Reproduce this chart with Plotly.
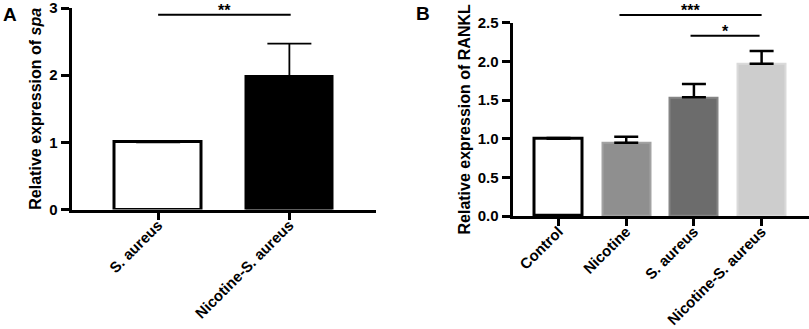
import plotly.graph_objects as go

W, H = 809, 329
FONT = "Liberation Sans, Arial, sans-serif"

# ---------------- data ----------------
cats_a = ["S. aureus", "Nicotine-S. aureus"]
vals_a = [1.0, 1.97]
err_a = [0.0, 0.50]
colors_a = ["#ffffff", "#000000"]

cats_b = ["Control", "Nicotine", "S. aureus", "Nicotine-S. aureus"]
vals_b = [1.0, 0.947, 1.536, 1.97]
err_b = [0.01, 0.078, 0.171, 0.163]
colors_b = ["#ffffff", "#8f8f8f", "#6c6c6c", "#cdcdcd"]
edge_b = ["#000000", "#a2a2a2", "#858585", "#dadada"]

ticks_a = [0, 1, 2, 3]
ticks_b = [0.0, 0.5, 1.0, 1.5, 2.0, 2.5]

# significance brackets: (x start, x end, y, label) in data units
sig_a = [(0.0, 1.01, 2.90, "**")]
sig_b = [(0.9, 3.0, 2.60, "***"), (1.95, 2.97, 2.33, "*")]

# ---------------- geometry (pixels) ----------------
A_x = (71.5, 376)
A_y = (8, 209.5)      # top, bottom
A_xr = [-0.66, 1.66]
A_yr = [0, 3]
B_x = (512.5, 809)
B_y = (22.7, 216)
B_xr = [-0.68, 3.70]
B_yr = [0, 2.5]


def dom_x(p):
    return [p[0] / W, p[1] / W]


def dom_y(p):
    return [(H - p[1]) / H, (H - p[0]) / H]


def to_paper(x, y, px, py, xr, yr):
    dx = dom_x(px)
    dy = dom_y(py)
    fx = dx[0] + (x - xr[0]) / (xr[1] - xr[0]) * (dx[1] - dx[0])
    fy = dy[0] + (y - yr[0]) / (yr[1] - yr[0]) * (dy[1] - dy[0])
    return fx, fy


def b(s):
    return f"<b>{s}</b>"


fig = go.Figure()

fig.add_trace(go.Bar(
    x=list(range(len(cats_a))), y=vals_a, width=0.66,
    marker=dict(color=colors_a, line=dict(color="#000000", width=3)),
    error_y=dict(type="data", array=err_a, arrayminus=[0] * len(err_a),
                 symmetric=False, color="#000000", thickness=1.8, width=22),
    xaxis="x", yaxis="y", showlegend=False,
))

fig.add_trace(go.Bar(
    x=list(range(len(cats_b))), y=vals_b, width=0.71,
    marker=dict(color=colors_b, line=dict(color=edge_b, width=[3, 2, 2, 2])),
    error_y=dict(type="data", array=err_b, arrayminus=[0] * len(err_b),
                 symmetric=False, color="#000000", thickness=2.5, width=12),
    xaxis="x2", yaxis="y2", showlegend=False,
))

tickfont = dict(family=FONT, size=15, color="#000000")
titlefont = dict(family=FONT, size=16, color="#000000")
common_x = dict(showline=True, linewidth=3, linecolor="#000000", ticks="outside",
                ticklen=7, tickwidth=3, tickcolor="#000000", tickangle=-45,
                tickfont=tickfont, showgrid=False, zeroline=False, fixedrange=True,
                automargin=False, ticklabeloverflow="allow", ticklabelstandoff=-9)
common_y = dict(showline=True, linewidth=3, linecolor="#000000", ticks="outside",
                ticklen=8, tickwidth=3, tickcolor="#000000",
                tickfont=tickfont, showgrid=False, zeroline=False, fixedrange=True,
                automargin=False, ticklabeloverflow="allow")

fig.update_layout(
    template="none",
    width=W, height=H, margin=dict(l=0, r=0, t=0, b=0, autoexpand=False),
    paper_bgcolor="#ffffff", plot_bgcolor="#ffffff",
    bargap=0,
    xaxis=dict(domain=dom_x(A_x), range=A_xr, anchor="y",
               tickmode="array", tickvals=list(range(len(cats_a))),
               ticktext=[b(c) for c in cats_a], **common_x),
    yaxis=dict(domain=dom_y(A_y), range=A_yr, anchor="x",
               tickmode="array", tickvals=ticks_a,
               ticktext=[b(t) for t in ticks_a],
               title=dict(text=b("Relative expression of <i>spa</i>"),
                          font=titlefont, standoff=4),
               **common_y),
    xaxis2=dict(domain=dom_x(B_x), range=B_xr, anchor="y2",
                tickmode="array", tickvals=list(range(len(cats_b))),
                ticktext=[b(c) for c in cats_b], **common_x),
    yaxis2=dict(domain=dom_y(B_y), range=B_yr, anchor="x2",
                tickmode="array", tickvals=ticks_b,
                ticktext=[b(f"{t:.1f}") for t in ticks_b],
                title=dict(text=b("Relative expression of RANKL"),
                           font=titlefont, standoff=4),
                **common_y),
)

shapes = []
annotations = []


def add_sig(sigs, px, py, xr, yr):
    for (x0, x1, y, lab) in sigs:
        p0 = to_paper(x0, y, px, py, xr, yr)
        p1 = to_paper(x1, y, px, py, xr, yr)
        shapes.append(dict(type="line", xref="paper", yref="paper", x0=p0[0], x1=p1[0],
                           y0=p0[1], y1=p1[1], line=dict(color="#000000", width=2)))
        annotations.append(dict(xref="paper", yref="paper", x=(p0[0] + p1[0]) / 2,
                                y=p0[1] + 4.5 / H, text=b(lab), showarrow=False,
                                yanchor="middle", xanchor="center", borderpad=0,
                                font=dict(family=FONT, size=16, color="#000000")))


add_sig(sig_a, A_x, A_y, A_xr, A_yr)
add_sig(sig_b, B_x, B_y, B_xr, B_yr)

annotations.append(dict(xref="paper", yref="paper", x=1 / W, y=1 - 2 / H, text=b("A"),
                        showarrow=False, xanchor="left", yanchor="top",
                        font=dict(family=FONT, size=19, color="#000000")))
annotations.append(dict(xref="paper", yref="paper", x=414 / W, y=1 - 1 / H, text=b("B"),
                        showarrow=False, xanchor="left", yanchor="top",
                        font=dict(family=FONT, size=19, color="#000000")))

fig.update_layout(shapes=shapes, annotations=annotations)
fig.write_html("out.html", config={"displayModeBar": False},
               post_script="document.body.style.margin='0';document.body.style.overflow='hidden';")
